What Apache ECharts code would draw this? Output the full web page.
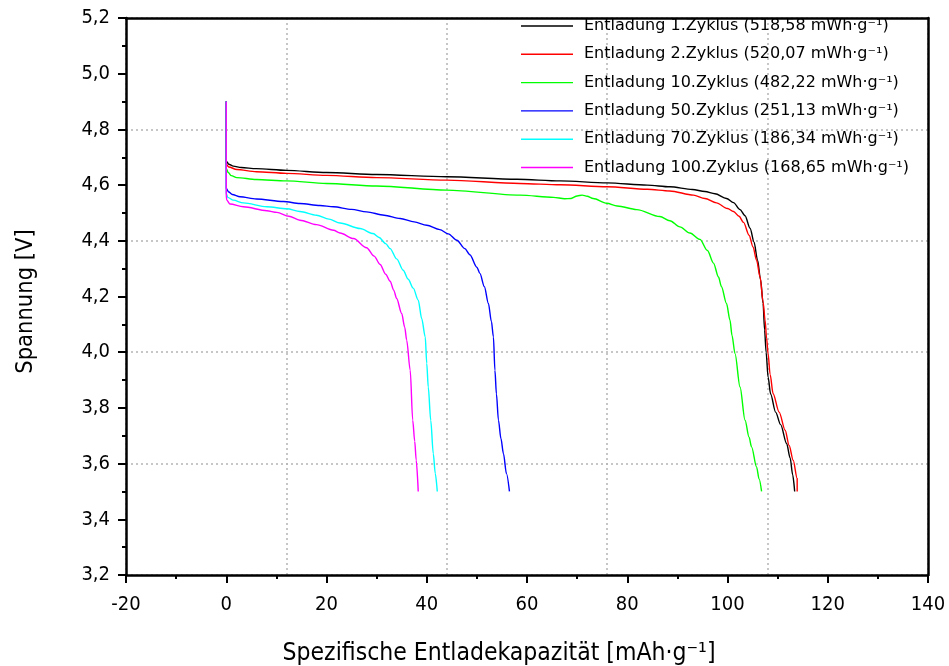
<!DOCTYPE html>
<html>
<head>
<meta charset="utf-8">
<script src="https://cdn.jsdelivr.net/npm/echarts@6/dist/echarts.min.js"></script>
<style>
  html, body { margin: 0; padding: 0; background: #fff; }
  #chart { width: 949px; height: 666px; }
</style>
</head>
<body>
<div id="chart"></div>
<script>
// Discharge curves: specific capacity [mAh/g] vs. cell voltage [V]
const seriesNames = [
  'Entladung 1.Zyklus (518,58 mWh·g⁻¹)',
  'Entladung 2.Zyklus (520,07 mWh·g⁻¹)',
  'Entladung 10.Zyklus (482,22 mWh·g⁻¹)',
  'Entladung 50.Zyklus (251,13 mWh·g⁻¹)',
  'Entladung 70.Zyklus (186,34 mWh·g⁻¹)',
  'Entladung 100.Zyklus (168,65 mWh·g⁻¹)'
];
const seriesColors = ['#000000', '#ff0000', '#00ff00', '#0000ff', '#00ffff', '#ff00ff'];

const capCycle1 = [0, 0, 0.5, 1.4, 3, 6, 12, 20, 30, 44, 58, 66.6, 76, 84, 88.5, 93, 95.5, 97.5, 99.8, 101.2, 102.5, 103.5, 104.5, 105.3, 106, 106.6, 107.1, 107.4, 107.7, 108.1, 108.6, 109.6, 110.6, 111.8, 112.5, 113.0, 113.4];
const voltCycle1 = [4.90, 4.686, 4.675, 4.668, 4.663, 4.659, 4.653, 4.645, 4.638, 4.630, 4.621, 4.615, 4.608, 4.600, 4.594, 4.584, 4.577, 4.569, 4.552, 4.537, 4.512, 4.490, 4.445, 4.395, 4.33, 4.26, 4.175, 4.08, 4.00, 3.91, 3.85, 3.785, 3.74, 3.672, 3.62, 3.56, 3.50];

const capCycle2 = [0, 0, 0.5, 2.1, 6, 12, 20, 30, 44, 58.6, 66.6, 76, 84, 88.5, 93.2, 95.5, 97.8, 100, 101.2, 102.3, 103.2, 104.3, 105.1, 105.8, 106.5, 107.1, 107.5, 107.8, 108.1, 108.5, 109.1, 110.3, 111.5, 112.3, 113.1, 113.9, 113.9];
const voltCycle2 = [4.90, 4.675, 4.665, 4.656, 4.648, 4.642, 4.635, 4.627, 4.618, 4.606, 4.601, 4.594, 4.585, 4.579, 4.564, 4.552, 4.536, 4.516, 4.505, 4.488, 4.466, 4.42, 4.378, 4.33, 4.27, 4.18, 4.115, 4.05, 3.995, 3.92, 3.851, 3.785, 3.72, 3.665, 3.612, 3.547, 3.50];

const capCycle10 = [0, 0, 0.4, 1, 2.1, 6, 12, 20, 30, 44, 58.6, 65.3, 67.5, 68.8, 70.0, 71.0, 72.0, 73.2, 75.9, 78, 81.9, 86.5, 88.5, 90.5, 92.5, 94.5, 96, 97.2, 98.2, 98.8, 99.8, 100.5, 100.9, 101.5, 102.5, 103.5, 104.3, 104.8, 105.8, 106.3, 106.8];
const voltCycle10 = [4.90, 4.66, 4.645, 4.634, 4.627, 4.620, 4.615, 4.606, 4.597, 4.582, 4.564, 4.556, 4.551, 4.552, 4.561, 4.564, 4.560, 4.552, 4.535, 4.525, 4.512, 4.487, 4.472, 4.450, 4.428, 4.405, 4.365, 4.320, 4.27, 4.235, 4.175, 4.115, 4.06, 3.995, 3.875, 3.756, 3.695, 3.660, 3.588, 3.545, 3.50];

const capCycle50 = [0, 0, 0.5, 1.2, 2.75, 6, 11.4, 14.7, 18.7, 21.4, 25, 28, 31.5, 34.7, 37.5, 40, 42.6, 44.3, 46, 47.6, 48.6, 50.0, 50.6, 51.5, 52.3, 52.9, 53.3, 53.6, 53.9, 54.3, 54.8, 55.3, 55.9, 56.5];
const voltCycle50 = [4.90, 4.588, 4.575, 4.566, 4.558, 4.550, 4.541, 4.534, 4.527, 4.522, 4.513, 4.504, 4.492, 4.480, 4.468, 4.456, 4.440, 4.425, 4.402, 4.372, 4.35, 4.305, 4.283, 4.235, 4.175, 4.11, 4.055, 3.935, 3.85, 3.756, 3.69, 3.636, 3.564, 3.50];

const capCycle70 = [0, 0, 0.3, 1.4, 3.4, 8.1, 12.1, 14.7, 18, 20.5, 22.7, 26.7, 29.3, 30.5, 31.8, 32.7, 34, 35.3, 36.3, 37.3, 38.3, 39.0, 39.7, 40.0, 40.3, 40.8, 41.3, 41.7, 42.1];
const voltCycle70 = [4.90, 4.570, 4.556, 4.546, 4.536, 4.522, 4.515, 4.505, 4.492, 4.478, 4.464, 4.444, 4.426, 4.412, 4.390, 4.372, 4.335, 4.294, 4.262, 4.230, 4.187, 4.12, 4.055, 3.96, 3.875, 3.755, 3.636, 3.565, 3.50];

const capCycle100 = [0, 0, 0.1, 0.75, 3.4, 8.1, 10.1, 12.5, 14.7, 18, 21.4, 22.7, 25.4, 28.0, 29.5, 30.7, 31.8, 32.7, 33.4, 34.0, 35.0, 35.6, 36.0, 36.7, 37.2, 37.6, 37.9, 38.3];
const voltCycle100 = [4.90, 4.564, 4.546, 4.532, 4.522, 4.508, 4.502, 4.488, 4.474, 4.458, 4.438, 4.428, 4.408, 4.375, 4.345, 4.315, 4.28, 4.255, 4.223, 4.193, 4.139, 4.09, 4.043, 3.935, 3.756, 3.68, 3.612, 3.50];

const capacities = [capCycle1, capCycle2, capCycle10, capCycle50, capCycle70, capCycle100];
const voltages = [voltCycle1, voltCycle2, voltCycle10, voltCycle50, voltCycle70, voltCycle100];

const FONT_AXIS = "'DejaVu Sans Condensed', 'DejaVu Sans', sans-serif";
const FONT_LEGEND = "'DejaVu Sans', sans-serif";

const series = seriesNames.map((name, i) => ({
  name: name,
  type: 'line',
  xAxisIndex: 0,
  yAxisIndex: 0,
  showSymbol: false,
  symbol: 'none',
  smooth: 0.3,
  smoothMonotone: 'x',
  animation: false,
  color: seriesColors[i],
  lineStyle: { color: seriesColors[i], width: 1.4 },
  data: capacities[i].map((c, k) => [c, voltages[i][k]])
}));

const chart = echarts.init(document.getElementById('chart'), null, { renderer: 'canvas' });

const frameLine = { show: true, onZero: false, lineStyle: { color: '#000', width: 2.5 } };
const gridDots = { show: true, lineStyle: { color: '#b4b4b4', width: 1.5, type: [2, 3] } };

chart.setOption({
  backgroundColor: '#ffffff',
  animation: false,
  grid: { left: 126, right: 21, top: 18, bottom: 91, containLabel: false, outerBoundsMode: 'none' },
  legend: {
    orient: 'vertical',
    left: 516,
    top: 13,
    itemWidth: 52,
    itemHeight: 16,
    itemGap: 12.3,
    icon: 'path://M0,0H52V1.4H0Z',
    textStyle: { fontFamily: FONT_LEGEND, fontSize: 16, color: '#000', padding: [0, 0, 0, 6] },
    data: seriesNames
  },
  xAxis: [
    {
      type: 'value', min: -20, max: 140, interval: 20,
      position: 'bottom',
      name: 'Spezifische Entladekapazität [mAh·g⁻¹]',
      nameLocation: 'middle', nameGap: 66,
      nameTextStyle: { fontFamily: FONT_AXIS, fontSize: 24.5, color: '#000', padding: [0, 56, 0, 0] },
      axisLine: frameLine,
      axisTick: { show: true, inside: false, length: 8, lineStyle: { color: '#000', width: 2 } },
      minorTick: { show: true, splitNumber: 2, length: 4, lineStyle: { color: '#000', width: 2 } },
      axisLabel: { fontFamily: FONT_AXIS, fontSize: 20, color: '#000', margin: 20 },
      splitLine: { show: false }
    },
    {
      // dotted reference grid (vertical)
      type: 'value', min: -20, max: 140, interval: 32,
      position: 'top',
      axisLine: frameLine,
      axisTick: { show: false },
      axisLabel: { show: false },
      splitLine: gridDots
    }
  ],
  yAxis: [
    {
      type: 'value', min: 3.2, max: 5.2, interval: 0.2,
      position: 'left',
      name: 'Spannung [V]',
      nameLocation: 'middle', nameGap: 88, nameRotate: 90,
      nameTextStyle: { fontFamily: FONT_AXIS, fontSize: 23.5, color: '#000', padding: [0, 10, 0, 0] },
      axisLine: frameLine,
      axisTick: { show: true, inside: false, length: 8, lineStyle: { color: '#000', width: 2 } },
      minorTick: { show: true, splitNumber: 2, length: 4, lineStyle: { color: '#000', width: 2 } },
      axisLabel: {
        fontFamily: FONT_AXIS, fontSize: 20, color: '#000', margin: 16,
        formatter: v => v.toFixed(1).replace('.', ',')
      },
      splitLine: { show: false }
    },
    {
      // dotted reference grid (horizontal)
      type: 'value', min: 3.2, max: 5.2, interval: 0.4,
      position: 'right',
      axisLine: frameLine,
      axisTick: { show: false },
      axisLabel: { show: false },
      splitLine: gridDots
    }
  ],
  series: series
});
</script>
</body>
</html>
